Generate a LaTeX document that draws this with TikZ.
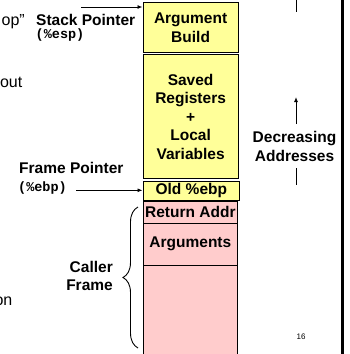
\documentclass[tikz,border=0pt]{standalone}
\usepackage{fontspec}
\setmainfont{Liberation Sans}
\newfontfamily\monob{Liberation Mono}
\usetikzlibrary{arrows.meta,decorations.pathreplacing}
\definecolor{stkyellow}{HTML}{FFFF99}
\definecolor{stkpink}{HTML}{FFCCCC}
\tikzset{
  lbl/.style={font=\fontsize{15.5}{18.5}\selectfont\bfseries, inner sep=0pt, align=center},
  frag/.style={font=\fontsize{16}{18}\selectfont, inner sep=0pt},
  codelbl/.style={font=\fontsize{13.5}{15}\selectfont\monob\bfseries, inner sep=0pt},
  cell/.style={draw=black, line width=1.2pt, inner sep=0pt, anchor=north west, lbl},
  ycell/.style={cell, fill=stkyellow},
  pcell/.style={cell, fill=stkpink},
  ptr/.style={line width=0.9pt, -{Latex[length=5pt,width=4pt]}},
  plain/.style={line width=0.9pt}
}
\begin{document}
\begin{tikzpicture}[x=1pt,y=-1pt]
\useasboundingbox (0,0) rectangle (349,354);
\clip (0,0) rectangle (349,354);
% stack cells
\node[ycell, minimum width=95pt, minimum height=50pt] (ab) at (142.5,2) {Argument\\Build};
\node[ycell, minimum width=95pt, minimum height=124pt] (sr) at (142.5,54) {Saved\\Registers\\+\\Local\\Variables};
\node[ycell, minimum width=96.5pt, minimum height=19.5pt] (oe) at (142.5,180.5) {Old \%ebp};
\node[pcell, minimum width=94.5pt, minimum height=22pt] (ra) at (142.5,200.5) {Return Addr};
\node[pcell, minimum width=94.5pt, minimum height=42pt] (ar) at (142.5,222.5) {Arguments};
\node[pcell, minimum width=94.5pt, minimum height=100pt] (rest) at (142.5,264.5) {};
% stack pointer
\node[lbl, anchor=west] (spl) at (36,20) {Stack Pointer};
\node[codelbl, anchor=west] (spc) at (35.5,35) {(\%esp)};
\coordinate (spa) at (81,7);
\draw[ptr] (spa) -- (ab.west |- spa);
% frame pointer
\node[lbl, anchor=west] (fpl) at (19,167.5) {Frame Pointer};
\node[codelbl, anchor=west] (fpc) at (18,188.5) {(\%ebp)};
\coordinate (fpa) at (76,190.3);
\draw[ptr] (fpa) -- (oe.west |- fpa);
% caller frame brace
\coordinate (bt) at (138,207);
\coordinate (bb) at (138,348);
\draw[plain, decorate, decoration={brace, amplitude=15pt, aspect=0.5}] (bb) -- (bt);
\node[lbl, anchor=east, align=right] (cf) at (113,276) {Caller\\Frame};
% decreasing addresses
\coordinate (dt0) at (296,0);
\coordinate (dt1) at (296,12);
\draw[plain] (dt0) -- (dt1);
\coordinate (da0) at (296,124);
\coordinate (da1) at (296,97);
\draw[ptr] (da0) -- (da1);
\node[lbl] (dec) at (294.5,146.5) {Decreasing\\Addresses};
\coordinate (db0) at (296,168);
\coordinate (db1) at (296,185);
\draw[plain] (db0) -- (db1);
% right border
\coordinate (rb0) at (342.5,0);
\coordinate (rb1) at (342.5,354);
\draw[line width=2.4pt] (rb0) -- (rb1);
% page number
\node[font=\fontsize{8}{9}\selectfont, inner sep=0pt] (pg) at (301,337) {16};
% cut-off slide text
\node[frag, anchor=base east] (f1) at (25,25) {op”};
\node[frag, anchor=base east] (f2) at (22.5,87) {out};
\node[frag, anchor=base east] (f3) at (12.5,305) {on};
\end{tikzpicture}
\end{document}
